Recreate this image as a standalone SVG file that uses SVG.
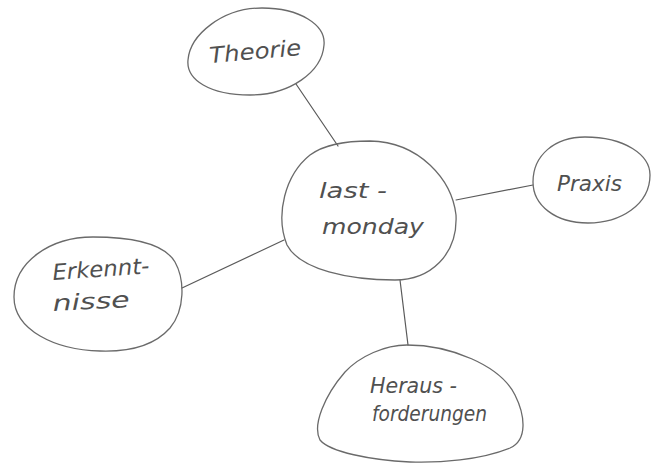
<svg xmlns="http://www.w3.org/2000/svg" width="654" height="464" viewBox="0 0 654 464">
<style>
.bg{fill:#ffffff}
.node{fill:none;stroke:#6a6a6a;stroke-width:1.3;stroke-linejoin:round}
.edge{fill:none;stroke:#5a5a5a;stroke-width:1.2;stroke-linecap:round}
.lbl{font-family:"DejaVu Sans","Liberation Sans",sans-serif;font-style:italic;fill:#505050;font-size:22px}
</style>
<rect class="bg" x="0" y="0" width="654" height="464"/>
<g id="connectors">
<line class="edge" x1="296" y1="84" x2="338" y2="146"/>
<line class="edge" x1="456" y1="200" x2="533" y2="185"/>
<line class="edge" x1="284" y1="240" x2="182" y2="288"/>
<line class="edge" x1="400" y1="280" x2="408" y2="345"/>
</g>
<g id="theorie">
<path class="node" d="M 262 8 C 300 8, 326 25, 324 45 C 322 72, 290 95, 250 95 C 210 95, 186 80, 188 60 C 190 35, 222 8, 262 8 Z"/>
<text class="lbl" x="210" y="63" font-size="24" transform="rotate(-5 210 63)" textLength="92" lengthAdjust="spacingAndGlyphs">Theorie</text>
</g>
<g id="lastmonday">
<path class="node" d="M 370 141 C 420 142, 452 180, 456 215 C 458 255, 430 280, 395 280 C 350 280, 300 270, 287 245 C 275 215, 285 175, 310 155 C 325 144, 345 141, 370 141 Z"/>
<text class="lbl" x="319" y="198" font-size="28" textLength="68" lengthAdjust="spacingAndGlyphs">last -</text>
<text class="lbl" x="322" y="234" font-size="28" textLength="102" lengthAdjust="spacingAndGlyphs">monday</text>
</g>
<g id="praxis">
<path class="node" d="M 585 137 C 625 137, 650 155, 650 175 C 650 205, 620 223, 588 223 C 555 223, 533 205, 533 182 C 533 155, 555 137, 585 137 Z"/>
<text class="lbl" x="557" y="191" font-size="26" textLength="65" lengthAdjust="spacingAndGlyphs">Praxis</text>
</g>
<g id="erkenntnisse">
<path class="node" d="M 93 237 C 135 237, 165 245, 175 262 C 185 280, 185 310, 170 328 C 155 345, 130 352, 100 351 C 55 350, 14 330, 14 297 C 14 262, 50 237, 93 237 Z"/>
<text class="lbl" x="53" y="280" font-size="26" transform="rotate(-4 53 280)" textLength="97" lengthAdjust="spacingAndGlyphs">Erkennt-</text>
<text class="lbl" x="53" y="311" font-size="26" transform="rotate(-3 53 311)" textLength="77" lengthAdjust="spacingAndGlyphs">nisse</text>
</g>
<g id="herausforderungen">
<path class="node" d="M 407 345 C 450 345, 500 365, 515 395 C 525 415, 528 440, 510 448 C 480 460, 440 463, 410 462 C 370 460, 330 452, 320 440 C 312 425, 325 395, 345 372 C 360 356, 385 345, 407 345 Z"/>
<text class="lbl" x="370" y="393" font-size="24" textLength="87" lengthAdjust="spacingAndGlyphs">Heraus -</text>
<text class="lbl" x="372" y="421" font-size="24" textLength="115" lengthAdjust="spacingAndGlyphs">forderungen</text>
</g>
</svg>
